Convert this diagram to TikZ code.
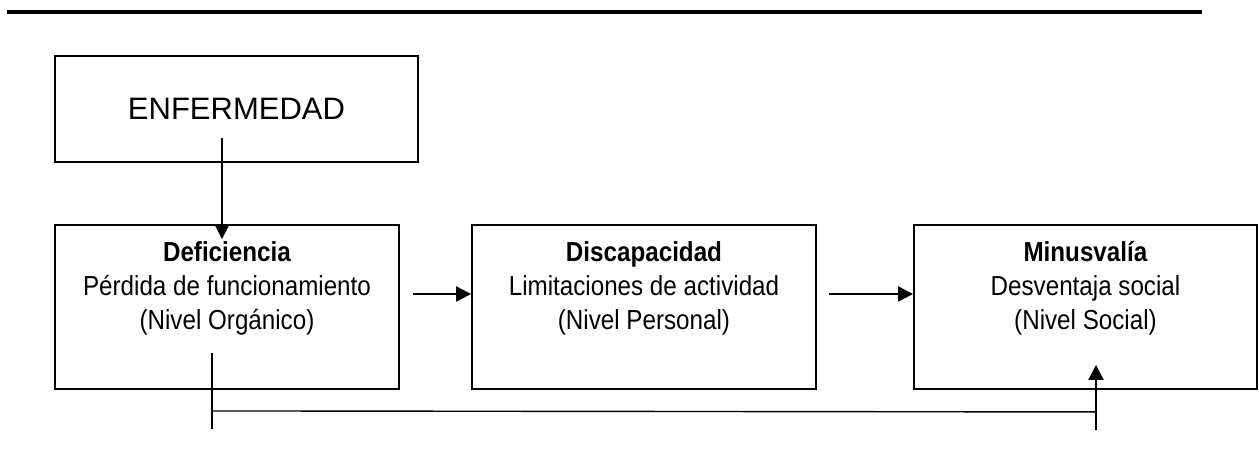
\documentclass[tikz,border=0pt]{standalone}
\usepackage{fontspec}
\setmainfont{Liberation Sans}
\newfontfamily\boxfont{Liberation Sans}[FakeStretch=0.88]
\usetikzlibrary{positioning,arrows.meta}
\begin{document}
\begin{tikzpicture}[x=1pt,y=1pt,
  >={Triangle[length=15pt,width=15pt]},
  box/.style={draw,line width=1.9pt,minimum width=344pt,minimum height=164pt,inner sep=0pt},
  boxtext/.style={align=center,inner sep=0pt,font=\boxfont\fontsize{27.5}{34}\selectfont},
  link/.style={line width=2.2pt},
  thin link/.style={line width=1.4pt}]
\useasboundingbox (0,0) rectangle (1259,450);
\draw[line width=4pt] (7,437.5) -- (1202,437.5);
\node[box,minimum width=363pt,minimum height=106pt,font=\fontsize{31}{36}\selectfont] (enf) at (236.5,341) {ENFERMEDAD};
\node[box] (def) at (227,143) {};
\node[box] (disc) at (644,143) {};
\node[box,minimum width=343pt] (min) at (1085.5,143) {};
\node[boxtext,below=17pt of def.north] (defT) {\textbf{Deficiencia}\\P\'erdida de funcionamiento\\(Nivel Org\'anico)};
\node[boxtext,below=17pt of disc.north] (discT) {\textbf{Discapacidad}\\Limitaciones de actividad\\(Nivel Personal)};
\node[boxtext,below=17pt of min.north] (minT) {\textbf{Minusval\'ia}\\Desventaja social\\(Nivel Social)};
\draw[link,->] ([xshift=-14.5pt,yshift=25pt]enf.south) -- ([xshift=-5pt,yshift=-15pt]def.north);
\draw[link,->] ([xshift=13pt,yshift=13pt]def.east) -- ([yshift=13pt]disc.west);
\draw[link,->] ([xshift=12pt,yshift=13pt]disc.east) -- ([yshift=13pt]min.west);
\coordinate (fbL) at ([xshift=-15pt,yshift=-21pt]def.south);
\coordinate (fbR) at ([xshift=10.5pt,yshift=-22pt]min.south);
\draw[thin link] ([yshift=58pt]fbL) -- ([yshift=-18pt]fbL);
\draw[thin link] (fbL) -- (fbR);
\draw[link,->] ([yshift=-18pt]fbR) -- ([xshift=10.5pt,yshift=25pt]min.south);
\end{tikzpicture}
\end{document}
